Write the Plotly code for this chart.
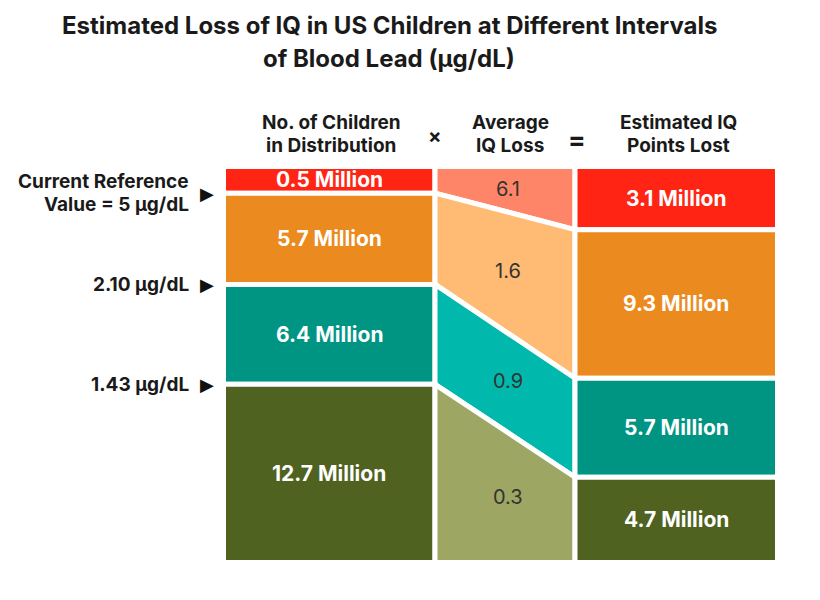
import plotly.graph_objects as go

# ---------------- data ----------------
children_millions = [0.5, 5.7, 6.4, 12.7]
avg_iq_loss = [6.1, 1.6, 0.9, 0.3]
iq_points_lost_millions = [3.1, 9.3, 5.7, 4.7]
threshold_labels = [["Current Reference", "Value = 5 µg/dL"], ["2.10 µg/dL"], ["1.43 µg/dL"]]
column_headers = [["No. of Children", "in Distribution"], ["Average", "IQ Loss"], ["Estimated IQ", "Points Lost"]]
operators = ["×", "="]
title_lines = ["Estimated Loss of IQ in US Children at Different Intervals", "of Blood Lead (µg/dL)"]

# ---------------- style / layout ----------------
strong = ["#FF2414", "#EA8A1F", "#009483", "#4F6220"]
light = ["#FF8568", "#FFBB73", "#00B9AC", "#9DA663"]
FONT = "Inter, Liberation Sans, Arial, sans-serif"
TOP, BOTTOM = 166.5, 562.5
PAD = 0.065  # display padding so small segments can hold a label
LEFT_X = (223.5, 435.0)
MID_X = (435.0, 575.0)
RIGHT_X = (575.0, 777.5)
GAP = 5
OFF = 8  # page body margin compensation


def bounds(values):
    total = sum(values)
    shares = [v / total + PAD for v in values]
    s = sum(shares)
    cum = [0.0]
    for sh in shares:
        cum.append(cum[-1] + sh / s)
    return [TOP + (BOTTOM - TOP) * c for c in cum]


lb = bounds(children_millions)
rb = bounds(iq_points_lost_millions)

fig = go.Figure()


def poly(xs, ys, color):
    fig.add_trace(go.Scatter(x=xs + [xs[0]], y=ys + [ys[0]], mode="lines", fill="toself",
                             fillcolor=color, line=dict(color="white", width=GAP),
                             hoverinfo="skip", showlegend=False))


ann = []
for i in range(4):
    # left column
    x0, x1 = LEFT_X
    poly([x0, x1, x1, x0], [lb[i], lb[i], lb[i + 1], lb[i + 1]], strong[i])
    ann.append(dict(x=(x0 + x1) / 2, y=(lb[i] + lb[i + 1]) / 2,
                    text=f"<b>{children_millions[i]:g} Million</b>",
                    font=dict(color="white", size=21)))
    # middle connector
    m0, m1 = MID_X
    poly([m0, m1, m1, m0], [lb[i], rb[i], rb[i + 1], lb[i + 1]], light[i])
    ytop = (lb[i] + rb[i]) / 2
    ybot = (lb[i + 1] + rb[i + 1]) / 2
    ann.append(dict(x=(m0 + m1) / 2 + 3, y=(ytop + ybot) / 2, text=f"{avg_iq_loss[i]:g}",
                    font=dict(color="#333333", size=20)))
    # right column
    r0, r1 = RIGHT_X
    poly([r0, r1, r1, r0], [rb[i], rb[i], rb[i + 1], rb[i + 1]], strong[i])
    ann.append(dict(x=(r0 + r1) / 2, y=(rb[i] + rb[i + 1]) / 2,
                    text=f"<b>{iq_points_lost_millions[i]:g} Million</b>",
                    font=dict(color="white", size=21)))

# threshold labels with arrows
for j, lines in enumerate(threshold_labels):
    yb = lb[j + 1]
    ann.append(dict(x=207, y=yb, text="▶", font=dict(color="#111111", size=18, family="DejaVu Sans")))
    n = len(lines)
    for k, line in enumerate(lines):
        off = (k - (n - 1) / 2) * 23
        ann.append(dict(x=191, y=yb + off, text=f"<b>{line}</b>", xanchor="right",
                        font=dict(color="#1a1a1a", size=19)))

# column headers
centers = [sum(LEFT_X) / 2 + 2, sum(MID_X) / 2 + 5, sum(RIGHT_X) / 2 + 2]
for c, lines in zip(centers, column_headers):
    for k, line in enumerate(lines):
        ann.append(dict(x=c, y=122 + 23 * k, text=f"<b>{line}</b>",
                        font=dict(color="#1a1a1a", size=19)))
ann.append(dict(x=435, y=136, text=f"<b>{operators[0]}</b>", font=dict(color="#1a1a1a", size=20)))
ann.append(dict(x=577, y=139, text=f"<b>{operators[1]}</b>", font=dict(color="#1a1a1a", size=26)))

# title
for k, line in enumerate(title_lines):
    ann.append(dict(x=389, y=25 + 33 * k, text=f"<b>{line}</b>",
                    font=dict(color="#1a1a1a", size=24)))

for a in ann:
    a.setdefault("xanchor", "center")
    a.update(xref="x", yref="y", showarrow=False, yanchor="middle")
    a["font"].setdefault("family", FONT)

fig.update_layout(
    width=820, height=600, margin=dict(l=0, r=0, t=0, b=0),
    paper_bgcolor="white", plot_bgcolor="white",
    xaxis=dict(range=[OFF, 820 + OFF], visible=False, fixedrange=True),
    yaxis=dict(range=[600 + OFF, OFF], visible=False, fixedrange=True),
    annotations=ann,
)

fig.write_html("out.html")
